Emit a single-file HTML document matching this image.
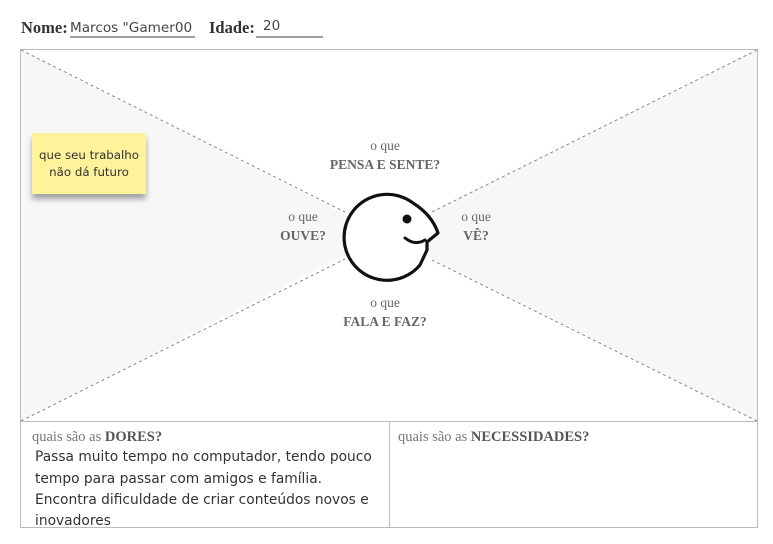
<!DOCTYPE html>
<html><head><meta charset="utf-8"><style>
html,body{margin:0;padding:0;background:#fff;width:773px;height:544px;overflow:hidden}
svg{display:block}
.serif{font-family:"Liberation Serif",serif}
.sans{font-family:"DejaVu Sans","Liberation Sans",sans-serif}
</style></head><body>
<svg width="773" height="544" viewBox="0 0 773 544" xmlns="http://www.w3.org/2000/svg">
<defs><filter id="sh" x="-20%" y="-20%" width="140%" height="160%"><feDropShadow dx="0" dy="5" stdDeviation="3" flood-color="#000" flood-opacity="0.35"/></filter></defs>
<text x="21" y="33" class="serif" font-size="16.5" font-weight="bold" fill="#333">Nome:</text>
<text x="70" y="32" class="sans" font-size="13.6" fill="#444">Marcos "Gamer00</text>
<line x1="70" y1="37" x2="195" y2="37" stroke="#666" stroke-width="1.2"/>
<text x="209" y="33" class="serif" font-size="16.5" font-weight="bold" fill="#333">Idade:</text>
<text x="263" y="30" class="sans" font-size="13.6" fill="#444">20</text>
<line x1="256" y1="37" x2="323" y2="37" stroke="#666" stroke-width="1.2"/>
<polygon points="21,50 385,235 21,421" fill="#f7f7f7"/>
<polygon points="757,50 385,235 757,421" fill="#f7f7f7"/>
<rect x="20.5" y="49.5" width="737" height="372" fill="none" stroke="#bbb"/>
<g stroke="#888" stroke-width="1" stroke-dasharray="3,3">
<line x1="21" y1="50" x2="345" y2="212"/>
<line x1="757" y1="50" x2="430" y2="213"/>
<line x1="21" y1="421" x2="345" y2="259"/>
<line x1="757" y1="421" x2="430" y2="259"/>
</g>
<path d="M413,203 A43,43 0 1 0 420,265 L427,250 L427,242 L438,233 Q432,215 413,203 Z" fill="#fff" stroke="#111" stroke-width="3.2" stroke-linejoin="round"/>
<circle cx="407" cy="219" r="4.5" fill="#111"/>
<path d="M405,238 Q415,246 425,240" fill="none" stroke="#111" stroke-width="3" stroke-linecap="round"/>
<g class="serif" text-anchor="middle" fill="#666">
<text x="385" y="150" font-size="13.5">o que</text>
<text x="385" y="169" font-size="13.5" font-weight="bold">PENSA E SENTE?</text>
<text x="303" y="221" font-size="13.5">o que</text>
<text x="303" y="240" font-size="13.5" font-weight="bold">OUVE?</text>
<text x="476" y="221" font-size="13.5">o que</text>
<text x="476" y="240" font-size="13.5" font-weight="bold">VÊ?</text>
<text x="385" y="307" font-size="13.5">o que</text>
<text x="385" y="326" font-size="13.5" font-weight="bold">FALA E FAZ?</text>
</g>
<rect x="32" y="133" width="114" height="61" fill="#fdf39b" filter="url(#sh)"/>
<g class="sans" font-size="11.8" fill="#333" text-anchor="middle">
<text x="89" y="159">que seu trabalho</text>
<text x="89" y="176">não dá futuro</text>
</g>
<rect x="20.5" y="421.5" width="737" height="106" fill="#fff" stroke="#bbb"/>
<line x1="389.5" y1="421" x2="389.5" y2="528" stroke="#bbb"/>
<text x="32" y="441" class="serif" font-size="14.5" fill="#777">quais são as <tspan font-weight="bold" fill="#555">DORES?</tspan></text>
<text x="398" y="441" class="serif" font-size="14.5" fill="#777">quais são as <tspan font-weight="bold" fill="#555">NECESSIDADES?</tspan></text>
<g class="sans" font-size="13.8" fill="#333">
<text x="35" y="461">Passa muito tempo no computador, tendo pouco</text>
<text x="35" y="483">tempo para passar com amigos e família.</text>
<text x="35" y="504">Encontra dificuldade de criar conteúdos novos e</text>
<text x="35" y="525">inovadores</text>
</g>
</svg>
</body></html>
